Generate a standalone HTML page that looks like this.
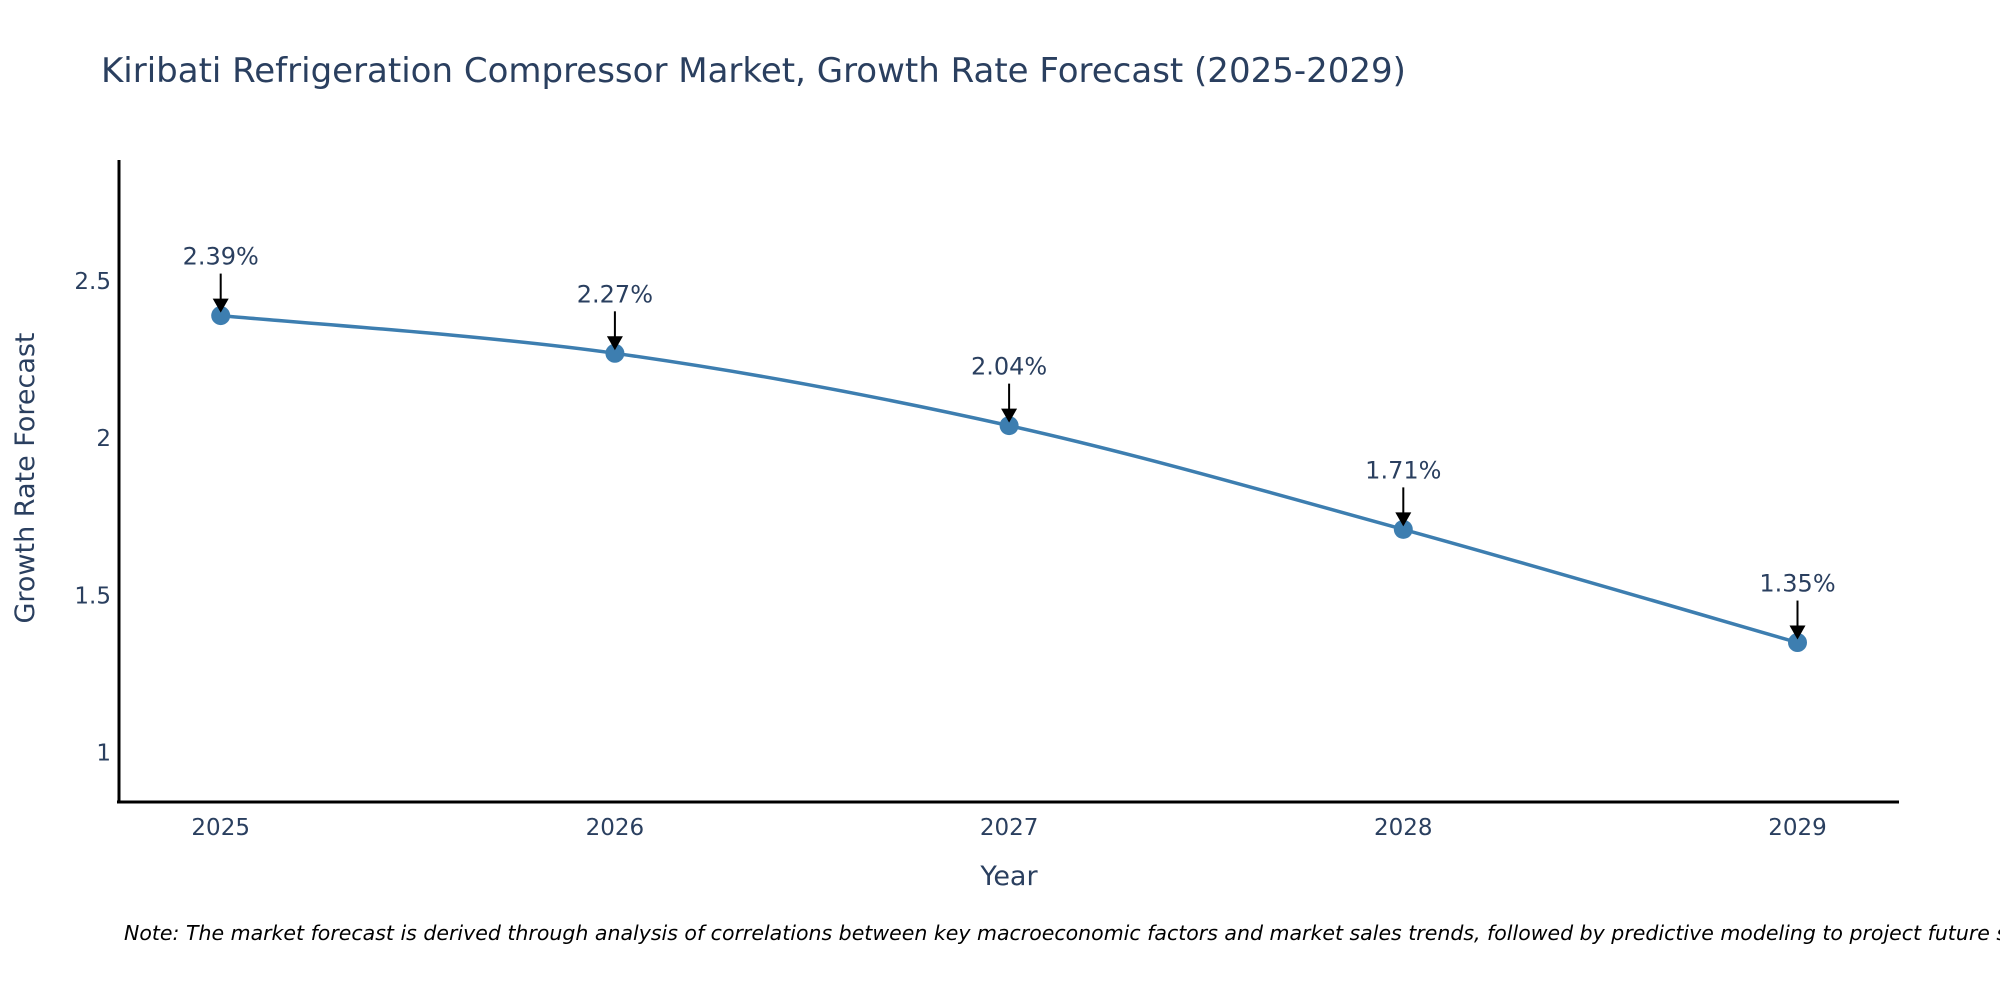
<!DOCTYPE html>
<html><head><meta charset="utf-8"><style>
html,body{margin:0;padding:0;background:#fff;}
svg{display:block;font-family:"DejaVu Sans","Liberation Sans",sans-serif;}
</style></head><body>
<svg id="chart" width="2000" height="1000" viewBox="0 0 2000 1000">
<text x="101" y="82" font-size="34" fill="#2a3f5f">Kiribati Refrigeration Compressor Market, Growth Rate Forecast (2025-2029)</text>
<g id="yticks"></g>
<g id="xticks"></g>
<line x1="119" y1="160" x2="119" y2="802" stroke="#000" stroke-width="3"/>
<line x1="117" y1="802" x2="1899" y2="802" stroke="#000" stroke-width="3"/>
<text transform="translate(34,478) rotate(-90)" text-anchor="middle" font-size="27" fill="#2a3f5f">Growth Rate Forecast</text>
<text x="1009" y="885" text-anchor="middle" font-size="27" fill="#2a3f5f">Year</text>
<g id="series"></g>
<g id="annots"></g>
<text x="124" y="940" font-size="20.5" font-style="italic" fill="#000">Note: The market forecast is derived through analysis of correlations between key macroeconomic factors and market sales trends, followed by predictive modeling to project future sales.</text>
</svg>
<script>
const years = [2025, 2026, 2027, 2028, 2029];
const growth = [2.39, 2.27, 2.04, 1.71, 1.35];
const labels = ["2.39%", "2.27%", "2.04%", "1.71%", "1.35%"];
const yTickVals = [1, 1.5, 2, 2.5];
const yTickLabels = ["1", "1.5", "2", "2.5"];

const NS = "http://www.w3.org/2000/svg";
function xs(v){ return 220.7 + (v - 2025) * 394.2; }
function ys(v){ return 752.6 - (v - 1) * 314.4; }
function mk(tag, attrs, parent){ const e = document.createElementNS(NS, tag); for (const k in attrs) e.setAttribute(k, attrs[k]); parent.appendChild(e); return e; }

const yg = document.getElementById('yticks');
yTickVals.forEach((v, i) => {
  const t = mk('text', {x: 111, y: ys(v) + 8, 'text-anchor': 'end', 'font-size': 23, fill: '#2a3f5f'}, yg);
  
  
  t.textContent = yTickLabels[i];
});
const xg = document.getElementById('xticks');
years.forEach(y => {
  const t = mk('text', {x: xs(y), y: 835, 'text-anchor': 'middle', 'font-size': 23, fill: '#2a3f5f'}, xg);
  
  
  t.textContent = String(y);
});

const pts = years.map((y, i) => [xs(y), ys(growth[i])]);
let d = 'M' + pts[0][0] + ',' + pts[0][1];
for (let i = 0; i < pts.length - 1; i++) {
  const p0 = pts[Math.max(0, i - 1)], p1 = pts[i], p2 = pts[i + 1], p3 = pts[Math.min(pts.length - 1, i + 2)];
  const c1 = [p1[0] + (p2[0] - p0[0]) / 6, p1[1] + (p2[1] - p0[1]) / 6];
  const c2 = [p2[0] - (p3[0] - p1[0]) / 6, p2[1] - (p3[1] - p1[1]) / 6];
  d += ' C' + c1[0] + ',' + c1[1] + ' ' + c2[0] + ',' + c2[1] + ' ' + p2[0] + ',' + p2[1];
}
const sg = document.getElementById('series');
const path = mk('path', {d: d, fill: 'none', stroke: '#3d7eb0', 'stroke-width': 3.5}, sg);


pts.forEach(p => {
  const c = mk('circle', {cx: p[0], cy: p[1], r: 9.5, fill: '#3d7eb0'}, sg);
  
  
});

const ag = document.getElementById('annots');
pts.forEach((p, i) => {
  const l = mk('line', {x1: p[0], y1: p[1] - 42, x2: p[0], y2: p[1] - 14, stroke: '#000', 'stroke-width': 2}, ag);
  
  
  const h = mk('polygon', {points: (p[0]-8)+','+(p[1]-17)+' '+(p[0]+8)+','+(p[1]-17)+' '+p[0]+','+(p[1]-3), fill: '#000'}, ag);
  
  
  const t = mk('text', {x: p[0], y: p[1] - 51, 'text-anchor': 'middle', 'font-size': 24, fill: '#2a3f5f'}, ag);
  
  
  t.textContent = labels[i];
});
</script>
</body></html>
